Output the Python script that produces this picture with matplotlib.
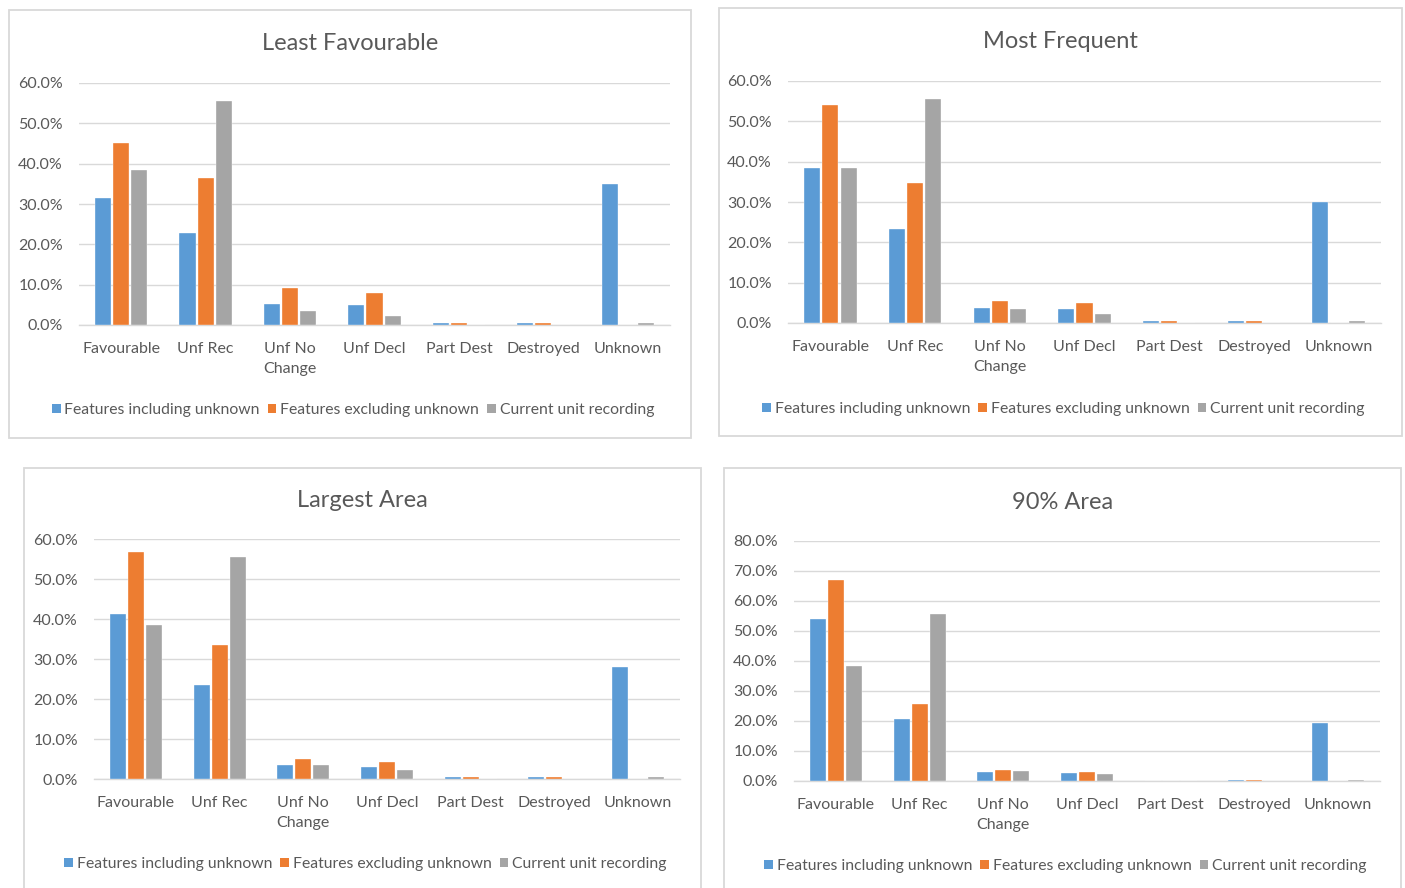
import matplotlib
matplotlib.use("Agg")
import matplotlib.pyplot as plt
from matplotlib.patches import Rectangle, Patch
from matplotlib.ticker import FuncFormatter, MultipleLocator
import numpy as np

plt.rcParams['font.family'] = ['Lato', 'DejaVu Sans']

categories = ["Favourable", "Unf Rec", "Unf No\nChange", "Unf Decl", "Part Dest", "Destroyed", "Unknown"]
series_names = ["Features including unknown", "Features excluding unknown", "Current unit recording"]

# Percentages per panel
least_incl = [31.5, 22.8, 5.2, 5.0, 0.4, 0.4, 35.0]
least_excl = [45.2, 36.5, 9.2, 7.9, 0.4, 0.6, 0.0]
frequent_incl = [38.5, 23.3, 3.7, 3.5, 0.4, 0.4, 30.0]
frequent_excl = [54.1, 34.7, 5.5, 5.0, 0.4, 0.4, 0.0]
largest_incl = [41.3, 23.5, 3.5, 3.0, 0.4, 0.4, 28.0]
largest_excl = [56.8, 33.5, 5.0, 4.3, 0.4, 0.4, 0.0]
area90_incl = [54.0, 20.7, 3.0, 2.7, 0.0, 0.4, 19.3]
area90_excl = [67.0, 25.7, 3.7, 3.0, 0.0, 0.4, 0.0]
current_unit = [38.5, 55.6, 3.4, 2.2, 0.0, 0.0, 0.4]

colors = ["#5B9BD5", "#ED7D31", "#A5A5A5"]
text_col = "#595959"
grid_col = "#D9D9D9"

W, H = 1405, 888
fig = plt.figure(figsize=(W / 100, H / 100), dpi=100)


def fx(x):
    return x / W


def fy(y):
    return 1 - y / H


panels = [
    # title, incl, excl, ymax, axes box (l, t, r, b), frame (l, t, r, b), title y, legend y
    ("Least Favourable", least_incl, least_excl, 60, (79, 83, 670, 325), (9, 10, 691, 438), 43, 410),
    ("Most Frequent", frequent_incl, frequent_excl, 60, (788, 81, 1381, 323), (719, 8, 1402, 436), 41, 409),
    ("Largest Area", largest_incl, largest_excl, 60, (94, 539, 680, 779), (24, 468, 701, 900), 500, 864),
    ("90% Area", area90_incl, area90_excl, 80, (794, 541, 1380, 781), (724, 468, 1401, 900), 502, 866),
]

for title, incl, excl, ymax, box, frame, ty, ly in panels:
    fl, ft, fr, fb = frame
    fig.patches.append(Rectangle((fx(fl), fy(fb)), fx(fr - fl), (fb - ft) / H,
                                 transform=fig.transFigure, facecolor="none",
                                 edgecolor=grid_col, linewidth=1.3, zorder=5))
    l, t, r, b = box
    ax = fig.add_axes([fx(l), fy(b), fx(r - l), (b - t) / H])
    ax.set_facecolor("none")
    x = np.arange(len(categories))
    w = 0.19
    step = 0.215
    for i, vals in enumerate([incl, excl, current_unit]):
        ax.bar(x + (i - 1) * step, vals, width=w, color=colors[i],
               edgecolor="white", linewidth=0.25, zorder=3, label=series_names[i])
    ax.set_xlim(-0.5, len(categories) - 0.5)
    ax.set_ylim(0, ymax)
    ax.yaxis.set_major_locator(MultipleLocator(10))
    ax.yaxis.set_major_formatter(FuncFormatter(lambda v, p: f"{v:.1f}%"))
    ax.grid(axis="y", color=grid_col, linewidth=1.0, zorder=0)
    for s in ["top", "right", "left"]:
        ax.spines[s].set_visible(False)
    ax.spines["bottom"].set_color(grid_col)
    ax.spines["bottom"].set_linewidth(1.0)
    ax.spines["bottom"].set_zorder(1)
    ax.tick_params(axis="both", length=0, labelsize=11.5, labelcolor=text_col)
    ax.tick_params(axis="y", pad=11.5)
    ax.tick_params(axis="x", pad=12)
    ax.set_xticks(x)
    ax.set_xticklabels(categories, linespacing=1.6)

    cx = (fl + fr) / 2
    fig.text(fx(cx), fy(ty), title, ha="center", va="center",
             fontsize=17, color=text_col)
    handles = [Patch(facecolor=c, edgecolor="none") for c in colors]
    fig.legend(handles, series_names, loc="center", bbox_to_anchor=(fx(cx + 3), fy(ly)),
               ncol=3, frameon=False, fontsize=11.3, labelcolor=text_col,
               handlelength=0.55, handleheight=0.55, handletextpad=0.25,
               columnspacing=0.5, borderaxespad=0)

fig.savefig("out.png", dpi=100, facecolor="white")
